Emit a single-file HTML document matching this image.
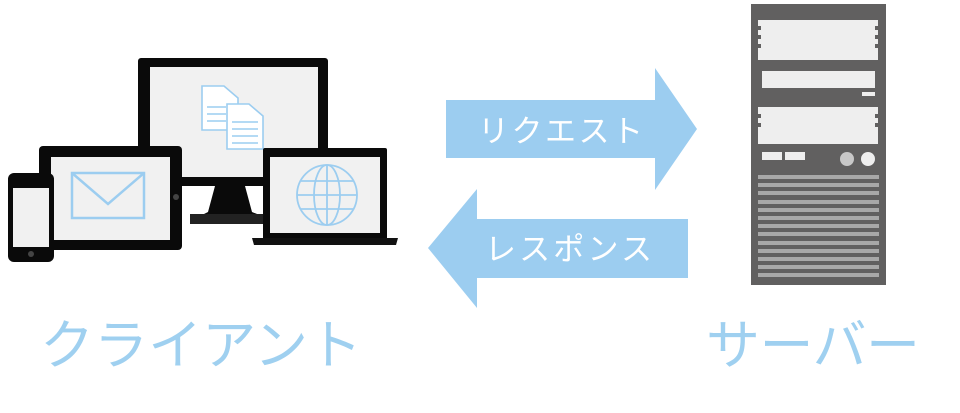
<!DOCTYPE html><html><head><meta charset="utf-8"><style>body{margin:0;background:#fff;width:960px;height:408px;overflow:hidden}</style></head><body>
<svg width="960" height="408" viewBox="0 0 960 408" xmlns="http://www.w3.org/2000/svg">
<!-- monitor -->
<rect x="138" y="58" width="190" height="128" rx="3" fill="#0a0a0a"/>
<rect x="150" y="67" width="168" height="110" fill="#f1f1f1"/>
<path d="M215 186 L245 186 L252 212 L262 216 L200 216 L208 212 Z" fill="#0a0a0a"/>
<rect x="190" y="214" width="74" height="10" fill="#222"/>
<g fill="#fff" stroke="#9ccdf0" stroke-width="1.6">
<path d="M202 86 H224 L238 98 V130 H202 Z"/><path d="M227 104 H249 L263 116 V149 H227 Z"/></g>
<g stroke="#9ccdf0" stroke-width="1.5"><line x1="207" y1="107" x2="226" y2="107"/><line x1="207" y1="114" x2="226" y2="114"/><line x1="207" y1="121" x2="226" y2="121"/><line x1="232" y1="122" x2="258" y2="122"/><line x1="232" y1="129" x2="258" y2="129"/><line x1="232" y1="136" x2="258" y2="136"/><line x1="232" y1="143" x2="258" y2="143"/></g>
<!-- tablet -->
<rect x="39" y="146" width="143" height="104" rx="4" fill="#0a0a0a"/>
<rect x="51" y="157" width="119" height="83" fill="#f1f1f1"/>
<circle cx="176" cy="197" r="3" fill="#444"/>
<rect x="72" y="173" width="72" height="45" fill="none" stroke="#9ccdf0" stroke-width="2.5"/>
<polyline points="72,173 108,204 144,173" fill="none" stroke="#9ccdf0" stroke-width="2.5"/>
<!-- phone -->
<rect x="8" y="173" width="46" height="89" rx="6" fill="#0a0a0a"/>
<rect x="13" y="188" width="36" height="59" fill="#f1f1f1"/>
<circle cx="31" cy="254" r="3" fill="#444"/>
<!-- laptop -->
<rect x="263" y="148" width="124" height="92" rx="2" fill="#0a0a0a"/>
<rect x="270" y="157" width="110" height="76" fill="#f1f1f1"/>
<path d="M252 238 H398 L396 245 H254 Z" fill="#111"/>
<g fill="none" stroke="#9ccdf0" stroke-width="1.8"><circle cx="327" cy="195" r="30"/><ellipse cx="327" cy="195" rx="13" ry="30"/><line x1="327" y1="165" x2="327" y2="225"/><line x1="297" y1="195" x2="357" y2="195"/><line x1="301" y1="181" x2="353" y2="181"/><line x1="301" y1="209" x2="353" y2="209"/></g>
<!-- arrows -->
<path d="M446 100 H655 V68 L697 129 L655 190 V158 H446 Z" fill="#9ccdf0"/>
<path d="M688 219 H477 V189 L428 248 L477 308 V278 H688 Z" fill="#9ccdf0"/>
<g font-family="Liberation Sans, Noto Sans CJK JP, sans-serif" fill="#fff" font-size="31">
<text x="478" y="142" textLength="165">リクエスト</text><text x="485" y="260" textLength="167">レスポンス</text></g>
<!-- server -->
<rect x="751" y="4" width="135" height="281" fill="#616060"/>
<g fill="#eeeeee"><rect x="758" y="20" width="120" height="40"/><rect x="762" y="71" width="113" height="17"/><rect x="862" y="92" width="13" height="4"/><rect x="758" y="107" width="120" height="37"/><rect x="762" y="152" width="20" height="8"/><rect x="785" y="152" width="20" height="8"/><circle cx="868" cy="159" r="7"/></g>
<circle cx="847" cy="159" r="7" fill="#c8c8c8"/>
<g fill="#616060"><rect x="758" y="26" width="3" height="4"/><rect x="758" y="35" width="3" height="4"/><rect x="758" y="44" width="3" height="4"/><rect x="875" y="26" width="3" height="4"/><rect x="875" y="35" width="3" height="4"/><rect x="875" y="44" width="3" height="4"/><rect x="758" y="114" width="3" height="4"/><rect x="758" y="123" width="3" height="4"/><rect x="875" y="114" width="3" height="4"/><rect x="875" y="123" width="3" height="4"/></g>
<g fill="#a8a8a8">
<rect x="758" y="175" width="121" height="4"/><rect x="758" y="183" width="121" height="4"/><rect x="758" y="191" width="121" height="4"/><rect x="758" y="200" width="121" height="4"/><rect x="758" y="208" width="121" height="4"/><rect x="758" y="216" width="121" height="4"/><rect x="758" y="224" width="121" height="4"/><rect x="758" y="232" width="121" height="4"/><rect x="758" y="241" width="121" height="4"/><rect x="758" y="249" width="121" height="4"/><rect x="758" y="257" width="121" height="4"/><rect x="758" y="265" width="121" height="4"/><rect x="758" y="273" width="121" height="4"/></g>
<g font-family="Liberation Sans, Noto Sans CJK JP, sans-serif" fill="#9fd0f0" font-size="54">
<text x="40" y="364" textLength="322">クライアント</text><text x="706" y="364" textLength="214">サーバー</text></g>
</svg></body></html>
